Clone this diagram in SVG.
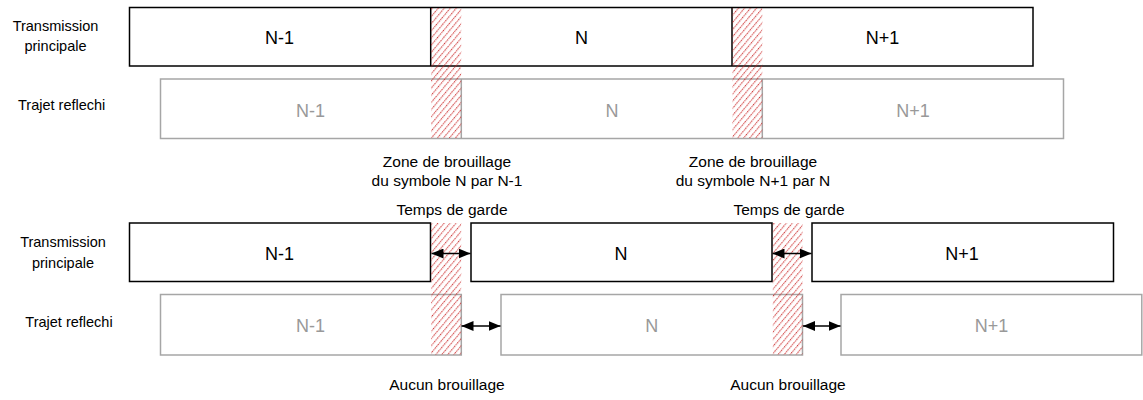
<svg xmlns="http://www.w3.org/2000/svg" width="1143" height="400" viewBox="0 0 1143 400">
<defs>
<pattern id="hatch" patternUnits="userSpaceOnUse" width="4.6" height="4.6" patternTransform="rotate(40)">
<line x1="0.6" y1="0" x2="0.6" y2="4.6" stroke="#c81e1e" stroke-width="1" stroke-dasharray="1.3 0.9"/>
</pattern>
<marker id="ah" viewBox="0 0 12 10" refX="12" refY="5" markerWidth="12" markerHeight="10" markerUnits="userSpaceOnUse" orient="auto-start-reverse">
<path d="M0,0 L12,5 L0,10 z" fill="#000"/>
</marker>
<style>
.blk{fill:#fff;stroke:#000;stroke-width:1.5}
.gry{fill:#fff;stroke:#a6a6a6;stroke-width:1.5}
.hat{fill:url(#hatch);stroke:none}
.seg{font-family:"Liberation Sans",Arial,sans-serif;font-size:18px;text-anchor:middle;fill:#000}
.segg{font-family:"Liberation Sans",Arial,sans-serif;font-size:18px;text-anchor:middle;fill:#999}
.lab{font-family:"Liberation Sans",Arial,sans-serif;font-size:14.5px;text-anchor:middle;fill:#000}
.mid{font-family:"Liberation Sans",Arial,sans-serif;font-size:15.5px;text-anchor:middle;fill:#000}
.arr{stroke:#000;stroke-width:1.5;fill:none;marker-start:url(#ah);marker-end:url(#ah)}
</style>
</defs>
<rect width="1143" height="400" fill="#fff"/>

<!-- TOP SECTION -->
<g id="label-top-main">
<text class="lab" x="55.5" y="31">Transmission</text>
<text class="lab" x="55.5" y="51">principale</text>
</g>
<g id="label-top-refl">
<text class="lab" x="61.7" y="110">Trajet reflechi</text>
</g>

<g id="top-main-row">
<rect class="blk" x="129.5" y="7.5" width="903.5" height="58.5"/>
<line x1="430.7" y1="7.5" x2="430.7" y2="66" stroke="#000" stroke-width="1.5"/>
<line x1="732" y1="7.5" x2="732" y2="66" stroke="#000" stroke-width="1.5"/>
<text class="seg" x="279.5" y="43.5">N-1</text>
<text class="seg" x="581.5" y="43.5">N</text>
<text class="seg" x="882.5" y="43.5">N+1</text>
</g>

<g id="top-refl-row">
<rect class="gry" x="160.5" y="79" width="903" height="59.5"/>
<line x1="461.3" y1="79" x2="461.3" y2="138.5" stroke="#a6a6a6" stroke-width="1.5"/>
<line x1="762.3" y1="79" x2="762.3" y2="138.5" stroke="#a6a6a6" stroke-width="1.5"/>
<text class="segg" x="310.5" y="116.5">N-1</text>
<text class="segg" x="612" y="116.5">N</text>
<text class="segg" x="913" y="116.5">N+1</text>
</g>

<g id="top-hatch-1">
<rect class="hat" x="431.2" y="8" width="30" height="130"/>
</g>
<g id="top-hatch-2">
<rect class="hat" x="732.5" y="8" width="29.8" height="130"/>
</g>

<g id="zone-label-1">
<text class="mid" x="447" y="166.5">Zone de brouillage</text>
<text class="mid" x="447" y="186">du symbole N par N-1</text>
</g>
<g id="zone-label-2">
<text class="mid" x="753" y="166.5">Zone de brouillage</text>
<text class="mid" x="753" y="186">du symbole N+1 par N</text>
</g>
<g id="guard-label-1">
<text class="mid" x="452" y="215">Temps de garde</text>
</g>
<g id="guard-label-2">
<text class="mid" x="789" y="215">Temps de garde</text>
</g>

<!-- BOTTOM SECTION -->
<g id="label-bot-main">
<text class="lab" x="63" y="247">Transmission</text>
<text class="lab" x="63" y="268">principale</text>
</g>
<g id="label-bot-refl">
<text class="lab" x="69" y="327">Trajet reflechi</text>
</g>

<g id="bot-main-n-1">
<rect class="blk" x="129.5" y="223" width="301" height="58.5"/>
<text class="seg" x="279.5" y="260">N-1</text>
</g>
<g id="bot-main-n">
<rect class="blk" x="471" y="223" width="301" height="58.5"/>
<text class="seg" x="621" y="260">N</text>
</g>
<g id="bot-main-n+1">
<rect class="blk" x="812" y="223" width="301.5" height="58.5"/>
<text class="seg" x="962" y="260">N+1</text>
</g>

<g id="bot-refl-n-1">
<rect class="gry" x="160.5" y="294.5" width="300.8" height="60.5"/>
<text class="segg" x="310.5" y="332">N-1</text>
</g>
<g id="bot-refl-n">
<rect class="gry" x="501" y="294.5" width="301.5" height="60.5"/>
<text class="segg" x="651.7" y="332">N</text>
</g>
<g id="bot-refl-n+1">
<rect class="gry" x="841" y="294.5" width="300.8" height="60.5"/>
<text class="segg" x="991.5" y="332">N+1</text>
</g>

<g id="bot-hatch-1">
<rect class="hat" x="431.2" y="223" width="30" height="131.5"/>
</g>
<g id="bot-hatch-2">
<rect class="hat" x="772.8" y="223" width="29.8" height="131.5"/>
</g>

<g id="connectors">
<line class="arr" x1="431.5" y1="253.5" x2="470.5" y2="253.5"/>
<line class="arr" x1="772.5" y1="253.5" x2="811.5" y2="253.5"/>
<line class="arr" x1="461.5" y1="326" x2="500.5" y2="326"/>
<line class="arr" x1="803" y1="326" x2="840.5" y2="326"/>
</g>

<g id="no-interf-1">
<text class="mid" x="447" y="390">Aucun brouillage</text>
</g>
<g id="no-interf-2">
<text class="mid" x="788" y="390">Aucun brouillage</text>
</g>
</svg>
